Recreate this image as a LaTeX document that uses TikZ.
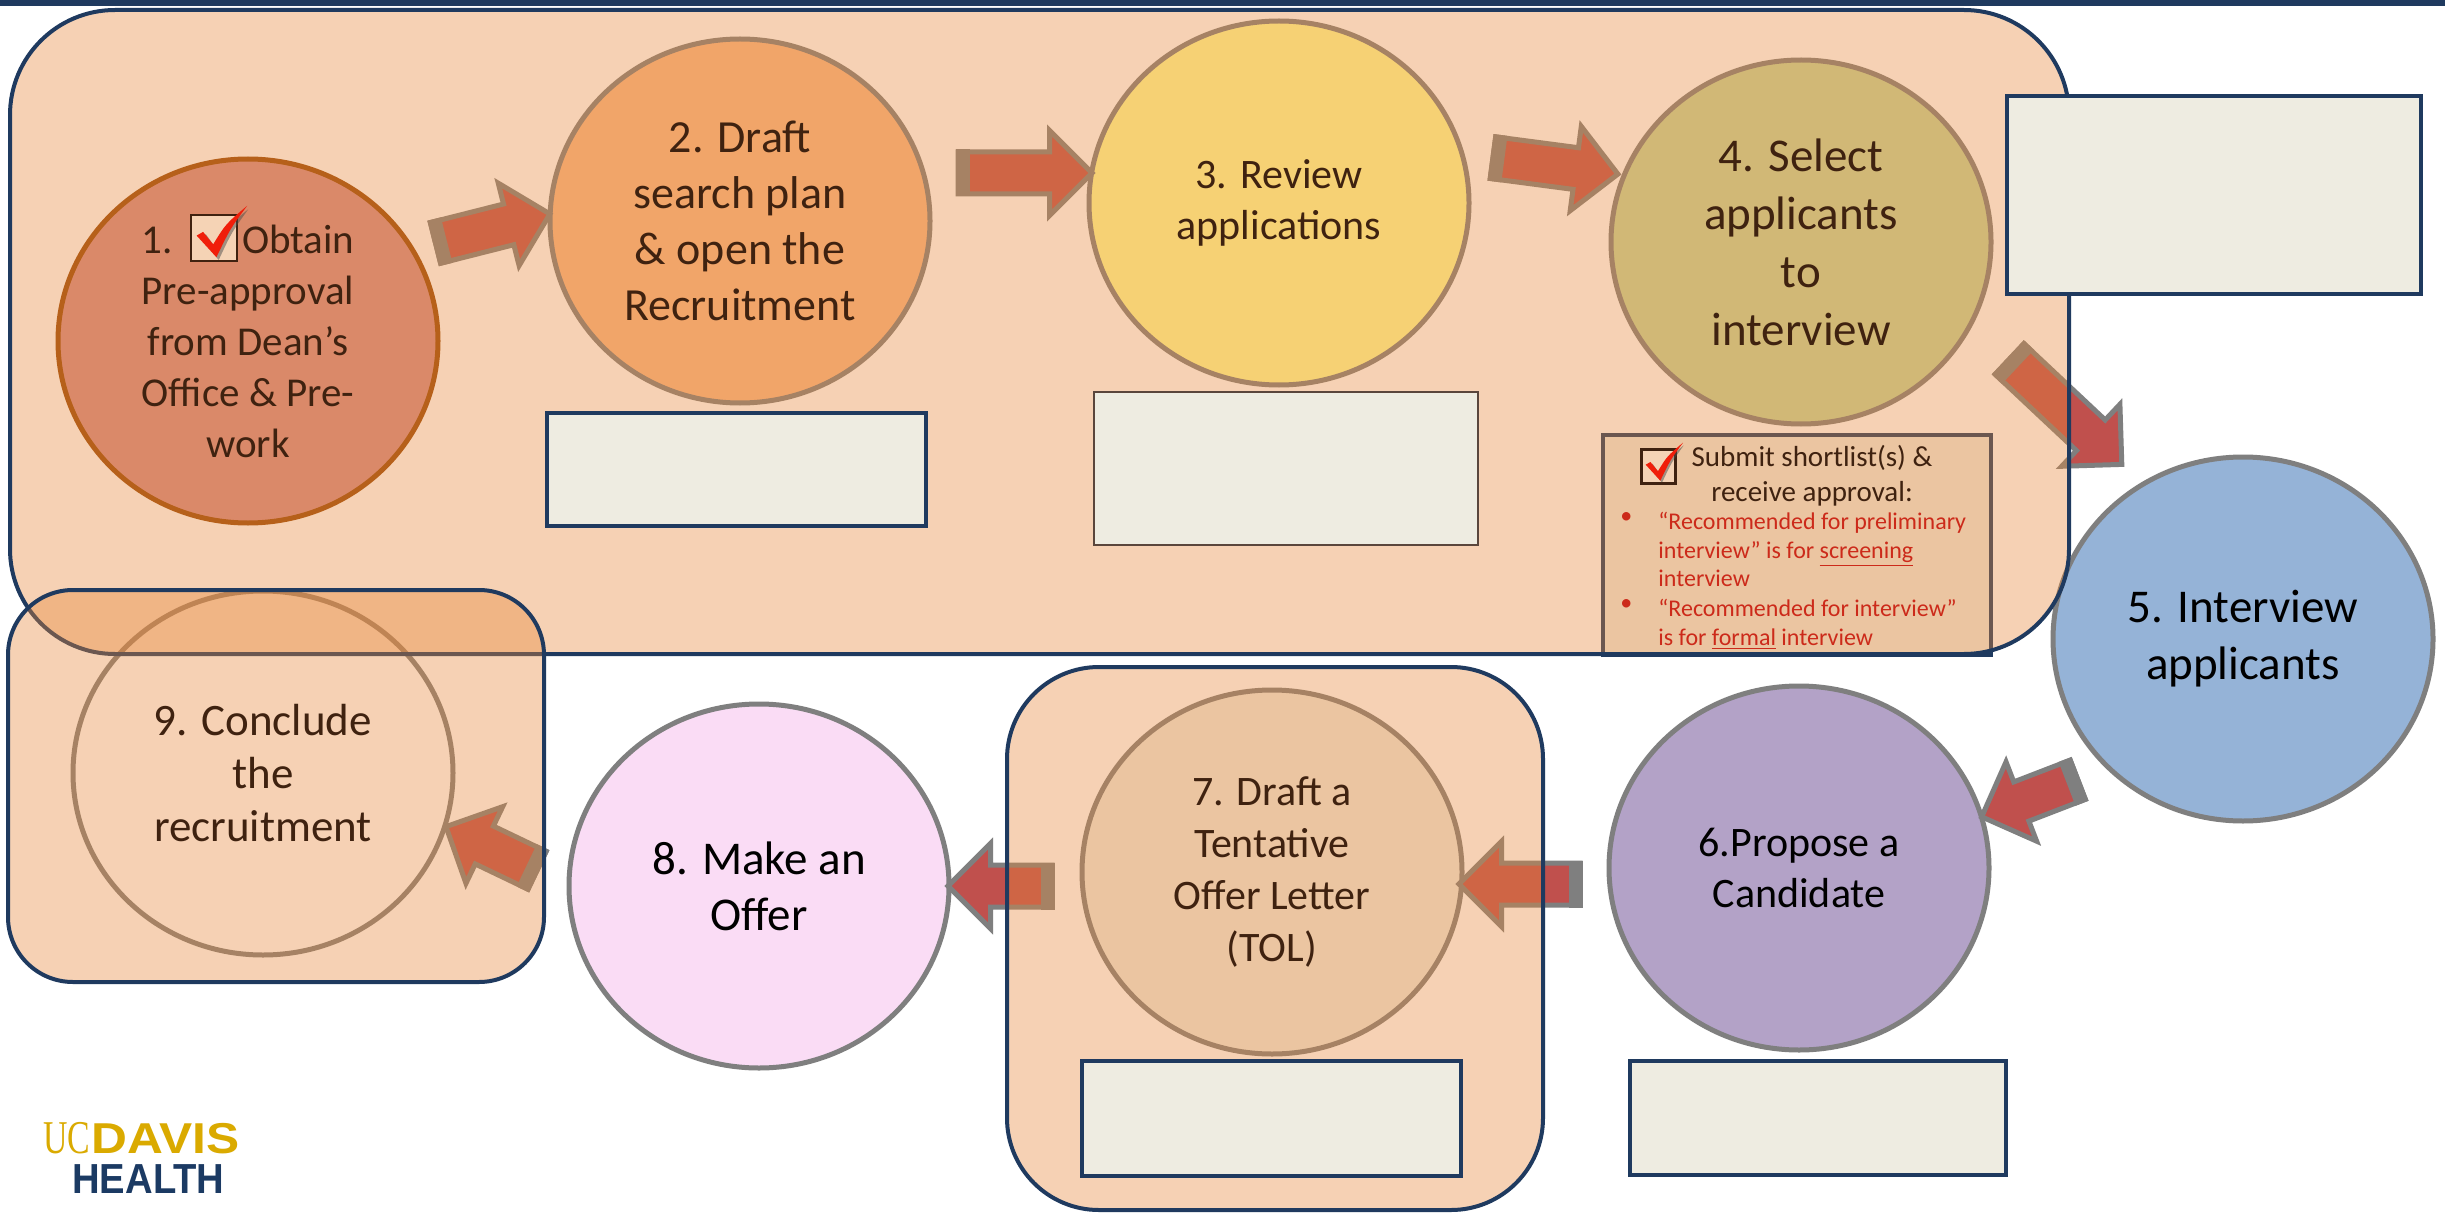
\documentclass[tikz,border=0pt]{standalone}
\usepackage{fontspec}
\setmainfont{Carlito}
\newfontfamily\logoserif{Liberation Serif}
\newfontfamily\logosans{Liberation Sans}
\usepackage{graphicx}
\usepackage{tikz}
\usetikzlibrary{positioning,calc,shapes.geometric,shapes.arrows}

\definecolor{navy}{HTML}{1F3A5F}
\definecolor{stepline}{HTML}{7F7F7F}
\definecolor{stepbrown}{HTML}{3F2210}
\definecolor{arrowfill}{HTML}{C0504D}
\definecolor{tintorange}{HTML}{E8883A}
\definecolor{boxfill}{HTML}{EEECE1}
\definecolor{tickfill}{HTML}{F5D3B5}
\definecolor{tickred}{HTML}{F01E0A}
\definecolor{listred}{HTML}{CC2A1A}
\definecolor{logogold}{HTML}{DAAA00}
\definecolor{logonavy}{HTML}{1B3A63}

\newcommand\tickbox[2]{\raisebox{#2}{\tikz[x=#1,y=#1]{%
  \filldraw[draw=stepbrown,fill=tickfill,line width=1.2pt] (0,0) rectangle (1,1);
  \fill[black!70,opacity=.5] (0.2,0.5) -- (0.32,0.58) -- (0.52,0.3) .. controls (0.78,0.75) .. (1.24,1.12) .. controls (0.88,0.62) .. (0.6,0.02) -- cycle;
  \fill[tickred] (0.12,0.55) -- (0.26,0.63) -- (0.48,0.36) .. controls (0.75,0.8) .. (1.22,1.2) .. controls (0.85,0.7) .. (0.55,0.08) -- cycle;}}}

\begin{document}
\begin{tikzpicture}[x=0.5pt, y=-0.5pt,
    stepcircle/.style = {ellipse, draw=stepline, line width=2.5pt, minimum width=190pt, minimum height=182pt, inner sep=0pt, align=center},
    steptext/.style = {align=center, inner sep=0pt, text=stepbrown},
    textsize/.style 2 args = {font=\fontsize{#1}{#2}\selectfont},
    flowarrow/.style = {single arrow, draw=stepline, fill=arrowfill, line width=2.5pt, inner xsep=0pt, inner ysep=9.25pt,
      single arrow head extend=10.75pt, single arrow tip angle=90, minimum width=0pt, minimum height=#1},
    groupbox/.style = {draw=navy, line width=2pt, fill=tintorange, fill opacity=0.38},
    emptybox/.style = {draw=navy, fill=boxfill, line width=2.25pt, inner sep=0pt}]

  \fill[white] (0,0) rectangle (2445,1214);
  \useasboundingbox (0,0) rectangle (2445,1214);

  % the nine steps
  \node[stepcircle, fill={rgb,255:red,211;green,139;blue,135}, draw={rgb,255:red,152;green,72;blue,7}] (s1) at (248,341) {};
  \node[stepcircle, fill={rgb,255:red,248;green,183;blue,135}] (s2) at (740,221) {};
  \node[stepcircle, fill={rgb,255:red,255;green,255;blue,153}] (s3) at (1279,203) {};
  \node[stepcircle, fill={rgb,255:red,195;green,214;blue,155}] (s4) at (1801,242) {};
  \node[stepcircle, fill={rgb,255:red,149;green,179;blue,215}, textsize={23.5pt}{28.5pt}] (s5) at (2243,639)
    {5. Interview\\applicants};
  \node[stepcircle, fill={rgb,255:red,179;green,162;blue,199}, textsize={21pt}{25.5pt}] (s6) at (1799,868)
    {6.Propose a\\Candidate};
  \node[stepcircle, fill=boxfill] (s7) at (1272,872) {};
  \node[stepcircle, fill={rgb,255:red,250;green,220;blue,245}, textsize={23.5pt}{28pt}] (s8) at (759,886)
    {8. Make an\\Offer};
  \node[stepcircle] (s9) at (263,773) {};

  % block arrows between the steps
  \node[flowarrow=59pt, rotate=14.2] (a12) at (482.5,231) {};
  \node[flowarrow=67pt] (a23) at (1014.5,173) {};
  \node[flowarrow=63pt, rotate=-7.5] (a34) at (1545,164.5) {};
  \node[flowarrow=77pt, rotate=-43.2] (a45) at (2058,404.5) {};
  \node[flowarrow=51.5pt, rotate=201.1] (a56) at (2039.5,794.5) {};
  \node[flowarrow=60.5pt, rotate=180] (a67) at (1530,884) {};
  \node[flowarrow=52pt, rotate=180] (a78) at (1010.5,886) {};
  \node[flowarrow=50.5pt, rotate=154.4] (a89) at (501,853) {};
  \foreach \a in {a12,a23,a34,a45,a56,a67,a78,a89}
    \fill[stepline] (\a.before tail) -- (\a.after tail)
      -- ($(\a.after tail)+(\a.tail)!7pt!(\a.tip)-(\a.tail)$)
      -- ($(\a.before tail)+(\a.tail)!7pt!(\a.tip)-(\a.tail)$) -- cycle;

  % shortlist approval
  \node[emptybox, line width=2pt, minimum width=194pt, minimum height=110pt] (shortlist) at (1797,545) {};

  % tinted groups
  \draw[groupbox, rounded corners=52.5pt] (10,10) rectangle (2069,654);
  \draw[groupbox, rounded corners=32.5pt] (8,590) rectangle (544,982);
  \draw[groupbox, rounded corners=46pt] (1007,667) rectangle (1543,1210);

  % texts inside the tinted groups
  \node[steptext, textsize={20.5pt}{25.5pt}] (t1) at (s1)
    {1.~\hspace{4pt}\smash{\tickbox{23pt}{-4.5pt}}\hspace{-3pt}Obtain\\Pre-approval\\from Dean’s\\Office \& Pre-\\work};
  \node[steptext, textsize={23pt}{28pt}] (t2) at (s2) {2. Draft\\search plan\\\& open the\\Recruitment};
  \node[steptext, textsize={21pt}{25.5pt}] (t3) at (s3) {3. Review\\applications};
  \node[steptext, textsize={23.5pt}{29pt}] (t4) at (s4) {4. Select\\applicants\\to\\interview};
  \node[steptext, textsize={21pt}{26pt}] (t7) at (s7) {7. Draft a\\Tentative\\Offer Letter\\(TOL)};
  \node[steptext, textsize={22.5pt}{26.5pt}] (t9) at (s9) {9. Conclude\\the\\recruitment};

  \node[anchor=south west, inner sep=0pt] (shorttick) at (1640,485) {\tickbox{17pt}{0pt}};
  \node[steptext, textsize={14.5pt}{17.5pt}] (shorthead) at (1812,476)
    {Submit shortlist(s) \&\\receive approval:};
  \node[textsize={12pt}{14.25pt}, text=listred, anchor=north west, inner sep=0pt] (bullet1) at (1620,512) {•};
  \node[textsize={12pt}{14.25pt}, text=listred, anchor=north west, align=left, inner sep=0pt] (item1) at (1658,512)
    {“Recommended for preliminary\\interview” is for \underline{screening}\\interview};
  \node[textsize={12pt}{14.25pt}, text=listred, anchor=north west, inner sep=0pt] (bullet2) at (1620,599) {•};
  \node[textsize={12pt}{14.25pt}, text=listred, anchor=north west, align=left, inner sep=0pt] (item2) at (1658,599)
    {“Recommended for interview”\\is for \underline{formal} interview};

  % empty note boxes
  \node[emptybox, minimum width=189.5pt, minimum height=56.5pt] (note2) at (736.5,469.5) {};
  \node[emptybox, draw={rgb,255:red,90;green,70;blue,60}, line width=1pt, minimum width=192pt, minimum height=76.5pt] (note3) at (1286,468.5) {};
  \node[emptybox, minimum width=207pt, minimum height=99pt] (note4) at (2214,195) {};
  \node[emptybox, minimum width=188pt, minimum height=57pt] (note6) at (1818,1118) {};
  \node[emptybox, minimum width=189.5pt, minimum height=57.5pt] (note7) at (1271.5,1118.5) {};

  % top bar and logo
  \fill[navy] (0,0) rectangle (2445,6);
  \node[anchor=base west, inner sep=0pt, text=logogold, font=\logoserif\fontsize{23.5pt}{24pt}\selectfont] (ucmark) at (43,1153) {\scalebox{0.72}[1]{UC}};
  \node[anchor=base west, inner sep=0pt, text=logogold, font=\logosans\bfseries\fontsize{21.6pt}{22pt}\selectfont] (davis) at (91,1153) {\scalebox{1.15}[1]{DAVIS}};
  \node[anchor=base west, inner sep=0pt, text=logonavy, font=\logosans\bfseries\fontsize{21pt}{22pt}\selectfont] (health) at (72,1193) {\scalebox{0.91}[1]{HEALTH}};
\end{tikzpicture}
\end{document}
